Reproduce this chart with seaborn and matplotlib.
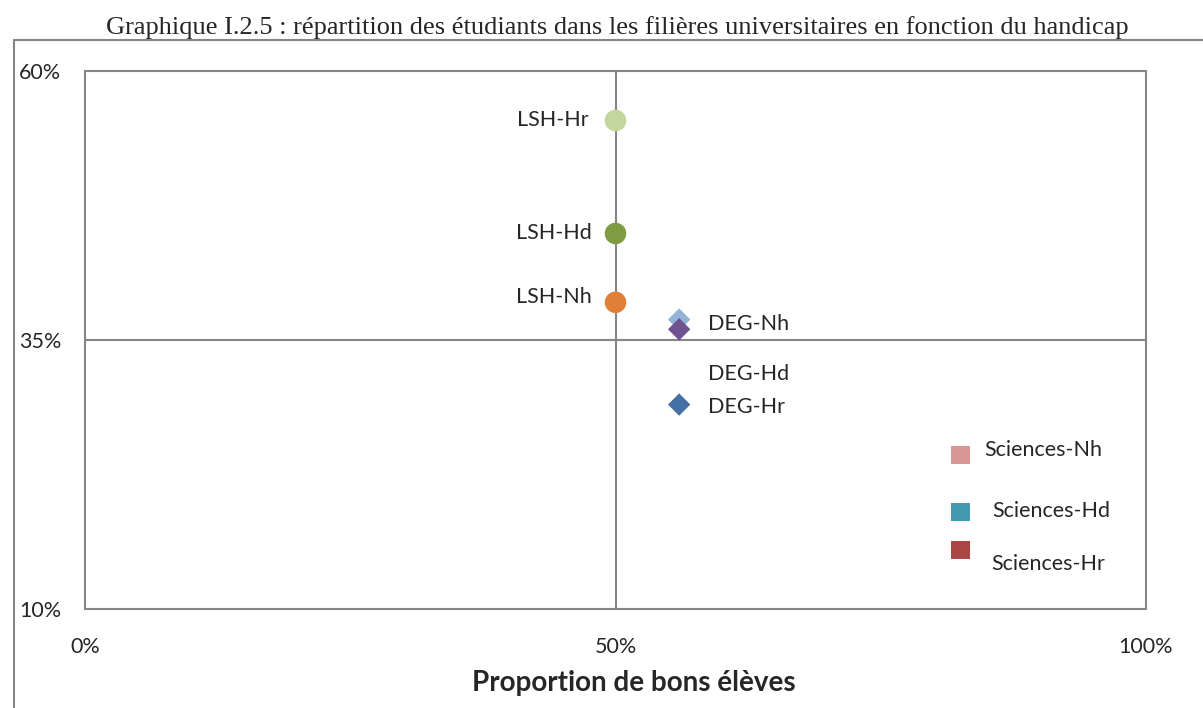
import matplotlib.pyplot as plt
import pandas as pd
import seaborn as sns
from matplotlib.lines import Line2D
from matplotlib.ticker import PercentFormatter

# values (share of good students, share of students)
labels = ["LSH-Hr", "LSH-Hd", "LSH-Nh",
          "DEG-Nh", "DEG-Hd", "DEG-Hr",
          "Sciences-Nh", "Sciences-Hd", "Sciences-Hr"]
filieres = ["LSH", "LSH", "LSH", "DEG", "DEG", "DEG",
            "Sciences", "Sciences", "Sciences"]
bons_eleves = [50.0, 50.0, 50.0, 56.0, 56.0, 56.0, 82.5, 82.5, 82.5]
part_etudiants = [55.4, 44.9, 38.5, 36.9, 36.0, 29.0, 24.3, 19.0, 15.5]

x_ticks = [0, 50, 100]
y_ticks = [10, 35, 60]

colors = {
    "LSH-Hr": "#c3d69b", "LSH-Hd": "#7f9c42", "LSH-Nh": "#e07f38",
    "DEG-Nh": "#95b3d7", "DEG-Hd": "#6f5391", "DEG-Hr": "#4470a6",
    "Sciences-Nh": "#d99694", "Sciences-Hd": "#4198af", "Sciences-Hr": "#aa4643",
}
marker_by_filiere = {"LSH": "o", "DEG": "D", "Sciences": "s"}
size_by_filiere = {"LSH": 240, "DEG": 130, "Sciences": 180}

# label offsets in points (dx, dy, horizontal alignment)
label_offsets = {
    "LSH-Hr": (-19, 0, "right"), "LSH-Hd": (-17, 0, "right"), "LSH-Nh": (-17, 4, "right"),
    "DEG-Nh": (21, -3, "left"), "DEG-Hd": (21, -32, "left"), "DEG-Hr": (21, -2, "left"),
    "Sciences-Nh": (17, 4, "left"), "Sciences-Hd": (23, 1, "left"), "Sciences-Hr": (22, -10, "left"),
}

df = pd.DataFrame({"label": labels, "filiere": filieres,
                   "x": bons_eleves, "y": part_etudiants})

sns.set_style("white")
plt.rcParams["font.family"] = ["Lato", "DejaVu Sans"]

fig = plt.figure(figsize=(12.03, 7.08), dpi=100)
ax = fig.add_axes([85 / 1203, 1 - 609 / 708, (1146 - 85) / 1203, (609 - 71) / 708])

grey = "#868686"
ax.axvline(50, color=grey, lw=1.5, zorder=1)
ax.axhline(35, color=grey, lw=1.5, zorder=1)

for fil, sub in df.groupby("filiere", sort=False):
    sns.scatterplot(data=sub, x="x", y="y", hue="label", palette=colors,
                    marker=marker_by_filiere[fil], s=size_by_filiere[fil],
                    linewidth=0, legend=False, ax=ax, zorder=3)

for _, row in df.iterrows():
    dx, dy, ha = label_offsets[row["label"]]
    ax.annotate(row["label"], (row["x"], row["y"]), xytext=(dx, dy),
                textcoords="offset points", ha=ha, va="center", fontsize=15.5)

ax.set_xlim(0, 100)
ax.set_ylim(10, 60)
ax.set_xticks(x_ticks)
ax.set_yticks(y_ticks)
ax.xaxis.set_major_formatter(PercentFormatter(decimals=0))
ax.yaxis.set_major_formatter(PercentFormatter(decimals=0))
ax.tick_params(axis="x", length=0, pad=20, labelsize=15.5)
ax.tick_params(axis="y", length=0, pad=17, labelsize=15.5)
for lab in ax.get_yticklabels():
    lab.set_horizontalalignment("right")
for sp in ax.spines.values():
    sp.set_color(grey)
    sp.set_linewidth(1.5)

ax.set_xlabel("Proportion de bons élèves", fontsize=20, fontweight="bold")
ax.xaxis.set_label_coords(0.517, -0.113)
ax.set_ylabel("")

fig.text(617 / 1203, 1 - 28 / 708,
         "Graphique I.2.5 : répartition des étudiants dans les filières universitaires en fonction du handicap",
         ha="center", va="center", fontsize=19, family="Liberation Serif")

# chart area border (top and left edges visible in the crop)
fig.add_artist(Line2D([14 / 1203, 1], [1 - 40 / 708, 1 - 40 / 708], color=grey, lw=1.5))
fig.add_artist(Line2D([14 / 1203, 14 / 1203], [0, 1 - 40 / 708], color=grey, lw=1.5))

fig.savefig("out.png", dpi=100)
